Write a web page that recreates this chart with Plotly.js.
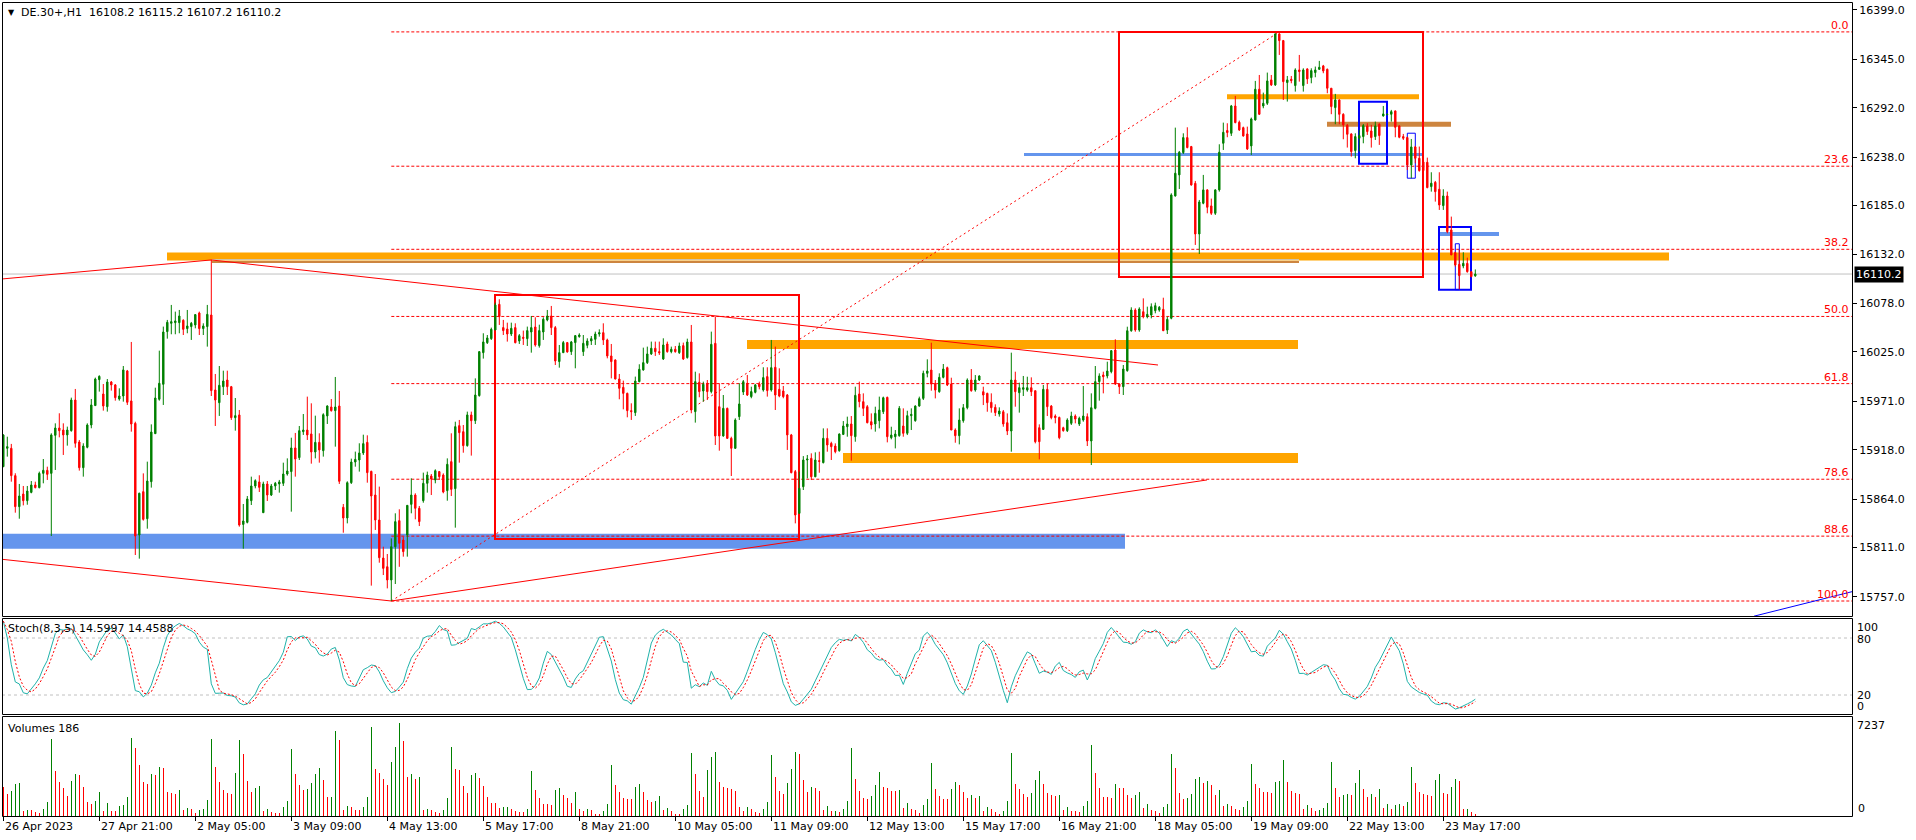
<!DOCTYPE html>
<html><head><meta charset="utf-8">
<script src="https://cdn.plot.ly/plotly-3.0.1.min.js"></script>
<style>html,body{margin:0;padding:0;background:#fff;overflow:hidden}#chart{width:1916px;height:840px}</style>
</head><body><div id="chart"></div>
<script>
// ---- DATA (DE.30+, H1) ----
const open = [15899.5,15919.6,15919.6,15889.7,15855.8,15869.6,15862.3,15871.4,15879.5,15876.6,
15892.2,15895.5,15892.2,15933.8,15941.8,15939.6,15934.2,15938.9,15972.4,15926.5,
15898.4,15920.7,15945.1,15966.3,15994.7,15979,15965.1,15992.1,15988.9,15973.5,
15976.8,16004.2,15971.4,15946.9,15824.8,15872.2,15842.6,15883.1,15935.6,15973.2,
15989.6,16047.2,16056.3,16057,16057,16059.6,16050.5,16052.7,16054.5,16067.6,
16050.5,16052.7,16065.4,15983.4,15969.5,15987,15994.3,15987,15953.1,15956.1,
15836.4,15838.6,15862.3,15878.4,15882.8,15849.2,15880.6,15868.5,15878.4,15880.6,
15881.3,15891.5,15894.1,15920,15909.4,15937.8,15939.6,15935.3,15915.6,15926.1,
15917,15955,15964.8,15960.8,15965.9,15855.1,15843.4,15882,15904.6,15906.8,
15914.5,15926.1,15894.4,15868.5,15841.2,15799.6,15790.1,15775.6,15812,15840.5,
15819.3,15824.8,15858.3,15868.5,15854,15862.3,15881.3,15889.3,15885,15894.1,
15890.4,15873.3,15905,15875.5,15944.4,15937.8,15922.5,15956.1,15949.8,15977.2,
16024.2,16035.1,16039.5,16049,16077.1,16051.6,16050.1,16044.6,16051.6,16037,
16041,16039.5,16046.8,16052.3,16031.9,16046.8,16060,16064.3,16051.6,16014.4,
16024.2,16035.2,16025.3,16035.2,16041.7,16025.3,16032.2,16037,16038.8,16044.6,
16046.1,16038.1,16020.6,16016.2,15995.4,15986.3,15979.7,15960.8,15958.6,15992.5,
16005.3,16013.3,16022.8,16029,16025.3,16017.3,16033.7,16025.3,16027.9,16024.2,
16031.9,16018.8,16035.9,15959.7,15991.8,15982.3,15990.7,15981.6,16034.4,15965.1,
15933.1,15963.3,15930.5,15919.6,15954.2,15981.2,15990.7,15976.1,15980.8,15990,
15983.4,15998,15983.4,16008.2,15984.1,15982.3,15977.9,15934.2,15894.1,15848.5,
15877.6,15906.8,15908.6,15888.5,15906.1,15903.9,15930.5,15925,15922.1,15917,
15934.8,15943.2,15946.2,15932.3,15979,15970.6,15965.1,15948.7,15946.2,15949.8,
15959.6,15975.3,15931.2,15932.3,15933.4,15944,15936,15955.3,15949.8,15965.8,
15974.2,16001.6,16005.2,15990.6,15981.5,15997.2,16007.8,15989.9,15939.6,15933.4,
15949.8,15964,15994.3,15983.3,15994.3,15981.5,15979.7,15969.9,15964.4,15957.1,
15959.6,15947.6,15938.5,15994.3,15980.4,15984.1,15983.3,15985.9,15982.6,15942.1,
15940.3,15984.1,15965.8,15954.9,15953.4,15942.1,15938.9,15946.9,15954.9,15946.2,
15950.5,15954.2,15927.6,15963.3,15992.5,15999.8,15998.7,16003.4,16027.1,15989.9,
15987,16004.5,16048.2,16070.8,16049,16069,16063.5,16065.4,16070.1,16070.8,
16071.6,16048.9,16061.8,16195.6,16218.6,16243,16259.4,16249.6,16209.4,16154,
16187.6,16202.2,16184.7,16176.6,16202.2,16253.2,16267.1,16264.1,16294,16276.2,
16270.3,16263.4,16250.3,16278.7,16312.3,16294,16296.9,16322.5,16317,16372.8,
16365.5,16319.6,16323.2,16316.3,16333.4,16316.3,16334.5,16325,16330.5,16334.1,
16337.8,16334.1,16313.4,16292.2,16300.6,16284.9,16272.9,16263.4,16245.2,16258.7,
16260.5,16272.2,16266.7,16260.5,16274,16283.1,16284.5,16284.9,16288.6,16272.2,
16260.5,16259.4,16229.5,16249.2,16236.8,16232.8,16232.4,16205.8,16210.5,16202.9,
16185,16195.6,16158.4,16133.6,16120.8,16119,16121.9,16112.8,16108.2];
const high = [15935,15932.3,15924.4,15892.3,15880.6,15878.4,15878.4,15883.8,15883.1,15894.1,
15907.9,15899.5,15936,15946.9,15957.9,15946.9,15943.3,15975,15984.5,15928.7,
15925.1,15946.9,15973.5,15996.9,15999.4,15989.9,15995.4,15993.2,15989.9,15985.2,
16009.6,16005.3,16035.9,15948.7,15871.1,15892.2,15905,15945.8,15985.9,16026.4,
16052.7,16060,16076.4,16069.1,16070.9,16060.7,16070.9,16057.8,16066.1,16069.1,
16056.3,16076.4,16125.6,16000.9,16009.6,16004.5,16004.5,15987.8,15974.6,15961.5,
15858.7,15867.4,15888.6,15885.7,15890.1,15883.1,15883.8,15880.6,15882.8,15885,
15903.9,15908.6,15931.2,15936.4,15944,15957.1,15976.1,15968.8,15955.3,15936,
15957.9,15966.6,15973.5,15997.6,15982.3,15858.7,15883.5,15908.3,15916,15925.1,
15934.5,15933.8,15895.1,15891.5,15877.7,15812,15804,15821.1,15848.5,15852.9,
15823,15857.6,15886.8,15870.4,15856.5,15893,15894.1,15891.5,15896.6,15894.8,
15892.2,15908.6,15936,15948.7,15950.6,15945.1,15959.7,15959.7,15996.1,16026,
16045.4,16043.5,16051.6,16078.9,16082.6,16060,16057,16057,16056.3,16044.6,
16048.3,16052.7,16064.3,16062.9,16054.8,16062.9,16070.9,16075.3,16053.4,16032.6,
16037,16035.9,16037,16043.5,16045.4,16043.5,16039.9,16042.4,16047.2,16049.7,
16056.3,16039.5,16033.7,16016.9,16000.9,15993.6,15980.5,15968.8,15998,16011.5,
16029.7,16030.8,16036.3,16036.3,16036.3,16039.9,16036.3,16030.8,16031.5,16035.2,
16035.2,16039.5,16054.5,16003.4,16001.6,15992.5,15994.3,16047.2,16063.6,15990.7,
15977.9,15964.1,15932.3,15952.4,15990.7,15994.3,15999.8,15987,15990,15992.5,
16008.2,16008.2,16038.1,16030.8,16007.1,15987.8,15979,15935.3,15895.9,15894.1,
15911.1,15912.3,15914.1,15915.2,15915.9,15941.4,15941.4,15926.8,15925,15935.9,
15949.4,15954.2,15954.9,15987,15992.5,15979.7,15966.9,15957.8,15965.1,15976.1,
15976.1,15976.1,15943.2,15939.6,15965.8,15963.3,15960.7,15963.3,15966.6,15976.1,
16004.5,16016.9,16035.1,15994.3,16001.6,16011.8,16008.9,15996.8,15941.4,15963.3,
15968,15996.1,16006.3,15999.7,15999.4,15987,15980.4,15979.7,15967.7,15964.4,
15961.5,15957.8,16024.2,16003.4,15991.4,15998.7,15997.9,15997.2,15982.6,15945.8,
15988.8,15990.6,15966.9,15956.7,15954.2,15943.2,15952.4,15959.6,15956.7,15954.2,
15987.7,15957.8,15979.7,16009.6,16001.6,16003.4,16014.3,16027.1,16038.8,15990.6,
16010.7,16052.6,16073.8,16072.7,16073.8,16083.6,16074.5,16078.1,16078.9,16075.2,
16084.3,16063.5,16198.5,16270.3,16244.8,16264.1,16270.7,16250.3,16212,16191.2,
16218.6,16202.9,16192.7,16202.9,16252.1,16275.8,16275.1,16295.1,16305,16278,
16271.4,16271.4,16281.3,16321.4,16327.9,16308.6,16330.5,16327.9,16373.5,16375,
16366.2,16326.8,16326.8,16335.2,16349.8,16335.2,16335.2,16335.2,16337.1,16343.3,
16338.9,16334.9,16313.4,16307.2,16301.3,16286,16274.3,16264.1,16264.1,16267.8,
16274.3,16275.1,16273.3,16276.9,16275.1,16294,16285.5,16289.7,16288.9,16272.9,
16263.4,16260.5,16257.9,16250.3,16249.6,16233.1,16237.5,16221.5,16212,16221.5,
16202.9,16200.3,16173,16134.7,16136.5,16134,16128.1,16112.8,16115.2];
const low = [15899,15910.5,15883.1,15849.2,15842.6,15857.2,15857.9,15870.4,15875.8,15875.8,
15881.3,15885,15823.7,15895.9,15931.6,15912.3,15922.5,15937.8,15920.3,15895.2,
15888.6,15919.6,15941.5,15966,15981.6,15960.8,15959.7,15982.7,15971.7,15971.7,
15970.6,15967,15937.8,15802.9,15798.9,15840.5,15831.7,15876.6,15935.3,15971.7,
15967,16039.5,16044.3,16044.3,16045.4,16043.5,16045.4,16038.1,16050.8,16043.5,
16043.5,16030.8,15976.8,15944,15955,15977.9,15977.9,15950.6,15938.9,15833.9,
15809.8,15837.5,15857.6,15875.8,15871.8,15849,15862,15867.4,15874,15871.1,
15878.4,15889.7,15850.3,15888.6,15906.8,15934.2,15928.7,15902.8,15908.6,15903.9,
15910.5,15946.2,15959.7,15921.4,15880.6,15827.3,15837.5,15880.6,15899.5,15894.1,
15912.3,15882,15769.4,15830.3,15794.5,15781,15766.4,15752.6,15771.2,15790,
15801.1,15801.1,15848.5,15841.9,15834.6,15860.1,15871.1,15868.5,15881.3,15885,
15870.4,15862.3,15867.4,15832.8,15903.9,15914.8,15921.4,15911.6,15946.2,15976.1,
16017.7,16033.7,16038.1,16049,16054.5,16043.5,16036.3,16042.4,16034.4,16033.7,
16032.6,16031.5,16024.2,16030.8,16029.7,16038.1,16058.5,16043.5,16010.7,16007.8,
16024.2,16024.2,16021.7,16007.1,16040.6,16020.6,16029,16032.6,16032.6,16041.7,
16032.6,16018,15996.1,15995,15973.2,15962.2,15953.5,15950.6,15955,15991.8,
16004.5,16011.8,16021.7,16020.6,16021.7,16016.2,16024.2,16023.5,16024.2,16022.8,
16016.2,16017.7,15957.9,15947.7,15975.4,15970.6,15972.4,15979.7,15923.2,15917,
15932.3,15929.8,15889.3,15918.9,15950.6,15977.9,15976.8,15974.3,15979.7,15984.1,
15981.6,15976.1,15981.6,15961.5,15975.4,15974.3,15917.8,15892.2,15837.5,15848,
15874,15886.7,15884.9,15888,15892.9,15903.1,15915.9,15906.8,15914.1,15915.9,
15934.1,15932.3,15906.1,15926.8,15964.4,15954.9,15946.9,15940.3,15937.8,15941.4,
15957.1,15926.1,15929.4,15919.5,15932.3,15932.3,15934.1,15939.6,15948.7,15965.1,
15972.4,15997.2,15982.6,15974.2,15980.4,15996.1,15987.7,15939.6,15925.7,15923.9,
15947.6,15962.2,15981.5,15981.5,15993.2,15966.9,15959.6,15958.6,15954.9,15954.2,
15943.2,15934.1,15915.9,15965.1,15958.6,15976.8,15981.5,15976.8,15925,15907.5,
15939.6,15954.9,15951.3,15946.9,15929.4,15937.8,15937.4,15945.1,15946.9,15944,
15948.7,15922.1,15901.3,15962.2,15971.7,15979.7,15996.1,16001.6,15988.8,15979,
15977.9,16003.4,16047.1,16047.1,16047.1,16061.7,16061.7,16061.7,16067.2,16069,
16047.9,16044.6,16060.7,16194.9,16203.2,16241.5,16247.7,16206.9,16142,16132.1,
16186.5,16176.6,16174.8,16174.8,16200.3,16245.9,16259.8,16261.2,16275.1,16266.7,
16260.5,16245.9,16240.4,16278,16284.2,16291.5,16295.1,16315.9,16315.9,16349.8,
16300.6,16298.8,16318.8,16309.7,16320.6,16309.7,16318.1,16318.8,16325.4,16333.4,
16329.8,16307.9,16285,16274,16274,16257.6,16248.5,16238.6,16236.8,16244.1,
16253.2,16262.3,16248.5,16256.8,16251.4,16282.4,16284,16276.9,16259.8,16258.7,
16256.8,16224,16214.9,16231.3,16222.2,16220.4,16204,16200.3,16189.4,16180.3,
16180.3,16154.8,16131.1,16118.3,16093.5,16116.5,16111.7,16106.6,16107.2];
const close = [15934.2,15921.4,15889.7,15855.8,15867.4,15862.3,15872.9,15879.5,15876.6,15892.2,
15895.5,15891.1,15934.2,15941.8,15938.9,15934.2,15939.6,15972.4,15925.1,15898.4,
15922.1,15945.1,15967,15995.4,15998.3,15965.9,15992.1,15988.9,15975,15976.8,
16005.3,15969.9,15946.2,15823.7,15870.4,15841.9,15883.8,15937.4,15974.6,15990.7,
16046.8,16057.4,16058.1,16058.9,16064.3,16049.7,16053.4,16056.3,16065.8,16050.5,
16053.4,16066.1,15982.7,15972.4,15988.5,15993.2,15987,15953.1,15955.3,15835.7,
15840.1,15864.2,15878.4,15884.2,15876.9,15880.6,15868.5,15878.4,15881.3,15882.8,
15891.5,15894.8,15920,15907.9,15938.9,15939.6,15934.2,15915.6,15926.1,15917.8,
15956.4,15965.9,15960.8,15964.8,15883.5,15843.4,15882,15904.6,15907.5,15914.5,
15924.7,15893,15867.4,15841.2,15800,15788.3,15775.6,15812,15839.4,15815.7,
15806.6,15857.2,15868.5,15854,15839.4,15881.3,15890.4,15886,15895.1,15888.6,
15871.8,15902.1,15874.7,15943.3,15936.7,15922.5,15956.1,15949.8,15977.9,16025.3,
16035.9,16040.3,16049.7,16076.4,16063.6,16048.3,16044.6,16050.8,16035.1,16042.8,
16039.9,16048.3,16051.6,16032.6,16048.3,16060.7,16064.3,16051.6,16015.1,16024.2,
16035.2,16025,16035.9,16042.8,16043.5,16034.4,16037,16039.5,16044.6,16046.1,
16038.1,16020.6,16014.4,15995.4,15985.2,15979.7,15960.8,15959.7,15993.2,16006,
16013.3,16022.8,16029,16025.3,16024.2,16032.6,16025.3,16027.9,16025.3,16031.5,
16017.3,16035.9,15961.5,15992.5,15981.6,15989.6,15981.6,16033.3,15933.1,15933.1,
15963.3,15930.5,15919.6,15950.6,15968.1,15992.5,15977.9,15981.6,15988.9,15987,
15996.9,15982.7,16007.8,15977.9,15976.8,15976.1,15934.2,15893,15846.7,15875.8,
15906.8,15907.9,15888.5,15906.8,15905.3,15930.5,15923.2,15921.4,15915.9,15935.2,
15944,15946.2,15933.4,15977.5,15970.6,15963.3,15947.6,15945.1,15957.8,15961.5,
15974.9,15932.3,15934.1,15935.2,15963.3,15936,15955.3,15956.7,15965.8,15973.9,
16001.6,16004.1,15989.9,15983.3,15997.2,16006.3,15988.8,15939.6,15933.4,15950.5,
15964,15994.3,15982.6,15994.3,15998.7,15977.9,15969.5,15964,15958.6,15960.4,
15946.2,15938.5,15994.3,15981.5,15985.9,15985.9,15985.9,15981.5,15926.8,15926.8,
15984.1,15965.1,15953.1,15953.1,15931.2,15938.9,15950.5,15954.9,15951.6,15952.4,
15954.9,15927.6,15964,15992.5,15998.7,15997.9,16004.1,16026.4,15989.9,15987,
16006.3,16048.2,16070.8,16049,16071.9,16063.5,16066.1,16074.5,16075.6,16073.8,
16048.2,16060.6,16196.7,16220.4,16243.4,16259.4,16248.5,16207.6,16154,16189,
16202.2,16183.2,16176.6,16202.2,16243.4,16265.2,16264.9,16294,16275.8,16267.8,
16261.2,16247,16279.8,16312.3,16284.9,16296.9,16321.4,16317,16372.8,16365.5,
16320.6,16322.5,16321.7,16333.4,16331.6,16333.4,16323.6,16332.7,16333.4,16336.3,
16332.3,16313.4,16293.3,16300.6,16284.9,16273.3,16263,16244.1,16260.5,16261.6,
16272.5,16266,16259.4,16272.2,16261.6,16285.3,16284.9,16287.8,16270.7,16259.8,
16258.7,16229.5,16249.2,16236.8,16223.3,16223.3,16204.7,16209.5,16200.3,16185.7,
16195.6,16156.6,16131.1,16120.1,16108.5,16121.9,16112.8,16107.4,16110.2];
const volume = [2283,1712,1946,2490,2568,389,467,467,285,233,
545,1089,5992,3502,2646,2205,1556,2724,3268,3191,
2257,1064,908,1167,1868,389,1012,389,389,778,
856,1479,6070,5292,3969,2646,2490,3268,3191,3813,
3735,1868,1790,1712,2023,467,623,545,233,467,
545,1245,5992,3813,2646,2023,1790,1738,3346,5914,
4825,2724,1868,2179,2335,389,545,311,233,233,
700,1167,5214,3268,2412,2023,2101,2568,3268,3735,
2802,1479,1505,6615,5914,467,778,700,467,467,
700,1479,6926,3658,3346,2879,2412,4202,5370,7237,
5837,3035,3268,2853,3009,467,545,467,311,233,
467,1401,5370,3658,3580,2335,1790,3191,3346,2957,
2335,1479,1012,1012,623,700,726,545,389,311,
285,545,3502,2023,1401,934,908,856,2023,2179,
1634,1401,1012,1868,545,389,545,467,156,156,
389,934,3969,2412,1868,1401,1323,1297,2257,2490,
1868,1245,1090,1141,1556,467,623,389,156,156,
545,856,4903,3268,1946,1479,3580,4591,4980,2646,
2257,2179,2100,1950,700,
389,700,545,311,233,545,1089,4747,3035,1946,
1712,2568,3658,4980,4825,2802,1868,2257,2179,1946,
467,778,389,415,311,545,1167,5292,2879,1946,
1401,1323,1556,2412,3424,2257,2179,1946,1946,2023,
623,1012,545,467,233,856,1323,4124,2101,1556,
1323,1323,2101,2646,2412,1868,1401,1634,1401,1556,
389,700,545,311,156,389,1167,4903,2490,2101,
1712,1479,1790,2802,3502,2490,1790,1634,1556,1634,
467,700,389,389,311,778,1167,5525,3346,2179,
1479,1479,1401,2490,2179,2179,1634,1401,1634,1868,
623,934,467,389,233,700,934,4825,3735,1790,
1323,1401,1712,2879,3035,2568,2724,2412,1634,2023,
778,934,778,545,467,700,1167,4047,2490,2179,
1868,1868,1790,2646,2724,4358,2646,1946,1790,1712,
545,856,623,389,467,623,1012,4202,2179,1479,
1634,1712,1634,2568,3580,2101,1479,1712,1479,2101,
623,934,545,856,934,778,1089,3813,2568,1868,
1712,1634,1556,2802,3268,1790,1712,2257,2879,2724,
545,571,311,186];
const priceTicks = [16399,16345,16292,16238,16185,16132,16078,16025,15971,15918,15864,15811,15757];
const dateLabels = ['26 Apr 2023','27 Apr 21:00','2 May 05:00','3 May 09:00','4 May 13:00','5 May 17:00',
  '8 May 21:00','10 May 05:00','11 May 09:00','12 May 13:00','15 May 17:00','16 May 21:00',
  '18 May 05:00','19 May 09:00','22 May 13:00','23 May 17:00'];
const dateLabelBars = [0,24,48,72,96,120,144,168,192,216,240,264,288,312,336,360];
const fibLevels = [0, 23.6, 38.2, 50.0, 61.8, 78.6, 88.6, 100.0];
const fibLowBar = 97, fibHighBar = 319;
const stochLevels = [20, 80];
const stochLabelValues = [14.5997, 14.4588]; // as printed in the indicator header

// ---- helpers ----
const W = 1916, H = 840, FONT = 'DejaVu Sans, Verdana, sans-serif';
const px = v => v / W, py = v => 1 - v / H;
const bars = close.map((_, i) => i);
const n = close.length;
const xb = p => (p - 3.3) / 4; // pixel -> bar position for drawn objects

function stochastic(hi, lo, cl, kPer, slow, dPer) {
  const num = [], den = [], main = [], sig = [];
  for (let i = 0; i < cl.length; i++) {
    const s = Math.max(0, i - kPer + 1);
    let hh = -Infinity, ll = Infinity;
    for (let j = s; j <= i; j++) { hh = Math.max(hh, hi[j]); ll = Math.min(ll, lo[j]); }
    num.push(cl[i] - ll); den.push(hh - ll);
    let sn = 0, sd = 0;
    for (let j = Math.max(0, i - slow + 1); j <= i; j++) { sn += num[j]; sd += den[j]; }
    main.push(sd > 0 ? sn / sd * 100 : 50);
    let sm = 0, c = 0;
    for (let j = Math.max(0, i - dPer + 1); j <= i; j++) { sm += main[j]; c++; }
    sig.push(sm / c);
  }
  return { main, sig };
}
const st = stochastic(high, low, close, 8, 5, 3);
const volColors = volume.map((v, i) => (i > 0 && v > volume[i - 1]) ? '#008000' : '#FF0000');

const fibLo = low[fibLowBar], fibHi = high[fibHighBar];
const fibPrice = l => fibHi - l / 100 * (fibHi - fibLo);
const xEnd = 462.175;

// ---- traces ----
const data = [
  { type: 'candlestick', x: bars, open, high, low, close, xaxis: 'x', yaxis: 'y',
    increasing: { line: { color: '#008000', width: 1 }, fillcolor: '#008000' },
    decreasing: { line: { color: '#FF0000', width: 1 }, fillcolor: '#FF0000' },
    whiskerwidth: 0, hoverinfo: 'skip' },
  { type: 'scatter', mode: 'lines', x: bars, y: st.main, xaxis: 'x', yaxis: 'y2',
    line: { color: '#20B2AA', width: 1 }, hoverinfo: 'skip' },
  { type: 'scatter', mode: 'lines', x: bars, y: st.sig, xaxis: 'x', yaxis: 'y2',
    line: { color: '#FF0000', width: 1, dash: '2px,2px' }, hoverinfo: 'skip' },
  { type: 'bar', x: bars, y: volume, xaxis: 'x', yaxis: 'y3', width: 0.25,
    marker: { color: volColors, line: { width: 0 } }, hoverinfo: 'skip' }
];

// ---- shapes ----
const shapes = [];
const hline = (x0, x1, y, color, width, dash, layer) => shapes.push({ type: 'line', xref: 'x', yref: 'y',
  x0, x1, y0: y, y1: y, line: { color, width, dash: dash || 'solid' }, layer: layer || 'below' });
const seg = (x0, y0, x1, y1, color, width, dash) => shapes.push({ type: 'line', xref: 'x', yref: 'y',
  x0, y0, x1, y1, line: { color, width, dash: dash || 'solid' }, layer: 'below' });
const rect = (x0, x1, y0, y1, color, width) => shapes.push({ type: 'rect', xref: 'x', yref: 'y',
  x0, x1, y0, y1, line: { color, width }, fillcolor: 'rgba(0,0,0,0)', layer: 'below' });

hline(-1, xEnd + 1, close[n - 1], '#C0C0C0', 1);
hline(xb(2), xb(1125), 15818, '#6495ED', 15);
hline(xb(167), xb(1669), 16129.4, '#FFA500', 8);
hline(xb(212), xb(1299), 16125.9, '#C8C8C8', 1);
hline(xb(212), xb(1299), 16123.4, '#CD853F', 2);
hline(xb(747), xb(1298), 16033, '#FFA500', 9);
hline(xb(843), xb(1298), 15909, '#FFA500', 10);
hline(xb(1024), xb(1422), 16241, '#6495ED', 3);
hline(xb(1439), xb(1499), 16154, '#6495ED', 4);
hline(xb(1227), xb(1419), 16304, '#FFA500', 5);
hline(xb(1327), xb(1451), 16274, '#CD853F', 5);
fibLevels.forEach(l => hline(fibLowBar, xEnd + 1, fibPrice(l), '#FF0000', 1, '3px,2px'));
seg(fibLowBar, fibLo, fibHighBar, fibHi, '#FF0000', 1, '2px,3px');
seg(-0.3, 16104.8, 52, high[52], '#FF0000', 1);
seg(52, high[52], xb(1158), 16010.7, '#FF0000', 1);
seg(-0.3, 15798.2, fibLowBar, fibLo, '#FF0000', 1);
seg(fibLowBar, fibLo, xb(1207), 15885, '#FF0000', 1);
seg(xb(1754), 15736, xb(1852), 15762.8, '#0000FF', 1);
rect(xb(495), xb(799), 15820.4, 16087.3, '#FF0000', 2);
rect(xb(1119), xb(1423), 16107, 16375, '#FF0000', 2);
rect(xb(1359), xb(1387), 16230.8, 16298.7, '#0000FF', 2);
rect(xb(1407.3), xb(1415.3), 16215, 16264.2, '#0000FF', 1);
rect(xb(1439), xb(1471), 16093.1, 16161.5, '#0000FF', 2);
rect(xb(1455.3), xb(1459.3), 16093.1, 16143.3, '#0000FF', 1);
stochLevels.forEach(v => shapes.push({ type: 'line', xref: 'paper', yref: 'y2', x0: px(2), x1: px(1852),
  y0: v, y1: v, line: { color: '#C0C0C0', width: 1, dash: '3px,3px' }, layer: 'below' }));
[[2.5, 616.5], [618.5, 714.5], [716.5, 816.5]].forEach(([t, b]) => shapes.push({ type: 'rect', xref: 'paper', yref: 'paper',
  x0: px(2.5), x1: px(1852.5), y0: py(b), y1: py(t), line: { color: '#000', width: 1 }, fillcolor: 'rgba(0,0,0,0)', layer: 'above' }));

// ---- annotations ----
const ann = [];
const txt = (x, y, text, opts) => ann.push(Object.assign({ xref: 'paper', yref: 'paper', x: px(x), y: py(y), text,
  showarrow: false, xanchor: 'left', yanchor: 'middle', font: { family: FONT, size: 11, color: '#000' } }, opts || {}));
txt(6, 12.5, '▼', { font: { family: FONT, size: 8, color: '#000' } });
txt(19, 13, 'DE.30+,H1&nbsp;&nbsp;' + [open[n - 1], high[n - 1], low[n - 1], close[n - 1]].map(v => v.toFixed(1)).join(' '));
txt(6, 628.5, 'Stoch(8,3,5) ' + stochLabelValues.map(v => v.toFixed(4)).join(' '));
txt(6, 728, 'Volumes ' + volume[n - 1]);
txt(1855, 627, '100'); txt(1855, 639, '80'); txt(1855, 695.5, '20'); txt(1855, 706.5, '0');
txt(1855, 725, String(Math.max(...volume))); txt(1856, 808.5, '0');
dateLabels.forEach((t, k) => ann.push({ xref: 'x', yref: 'paper', x: dateLabelBars[k], y: py(826.5), text: t,
  showarrow: false, xanchor: 'left', yanchor: 'middle', font: { family: FONT, size: 11, color: '#000' } }));
fibLevels.forEach(l => ann.push({ xref: 'x', yref: 'y', x: 461.8, y: fibPrice(l), text: l.toFixed(1),
  showarrow: false, xanchor: 'right', yanchor: 'middle', yshift: 6.5, font: { family: FONT, size: 11, color: '#FF0000' } }));
ann.push({ xref: 'paper', yref: 'y', x: px(1854), y: close[n - 1], text: close[n - 1].toFixed(1), showarrow: false,
  xanchor: 'left', yanchor: 'middle', bgcolor: '#000', borderpad: 1, font: { family: FONT, size: 11, color: '#fff' } });

const layout = {
  width: W, height: H, margin: { l: 0, r: 0, t: 0, b: 0 },
  paper_bgcolor: '#fff', plot_bgcolor: '#fff', showlegend: false, hovermode: false,
  boxgap: 0.5, bargap: 0,
  xaxis: { domain: [px(2), px(1852)], range: [-0.325, xEnd], anchor: 'y3', showgrid: false, zeroline: false,
    showline: false, ticks: 'outside', ticklen: 4, tickcolor: '#000', tickvals: dateLabelBars,
    showticklabels: false, rangeslider: { visible: false }, fixedrange: true },
  yaxis: { domain: [py(616), py(2)], range: [15736.2, 16407.7], side: 'right', anchor: 'x', showgrid: false,
    zeroline: false, showline: false, ticks: 'outside', ticklen: 4, tickcolor: '#000',
    tickvals: priceTicks, ticktext: priceTicks.map(v => v.toFixed(1)),
    tickfont: { family: FONT, size: 11, color: '#000' }, fixedrange: true },
  yaxis2: { domain: [py(714), py(619)], range: [0, 100], anchor: 'x', showgrid: false, zeroline: false,
    showticklabels: false, showline: false, fixedrange: true },
  yaxis3: { domain: [py(816), py(717)], range: [0, 7730], anchor: 'x', showgrid: false, zeroline: false,
    showticklabels: false, showline: false, fixedrange: true },
  shapes, annotations: ann
};
Plotly.newPlot('chart', data, layout, { staticPlot: true, displayModeBar: false });
</script></body></html>
